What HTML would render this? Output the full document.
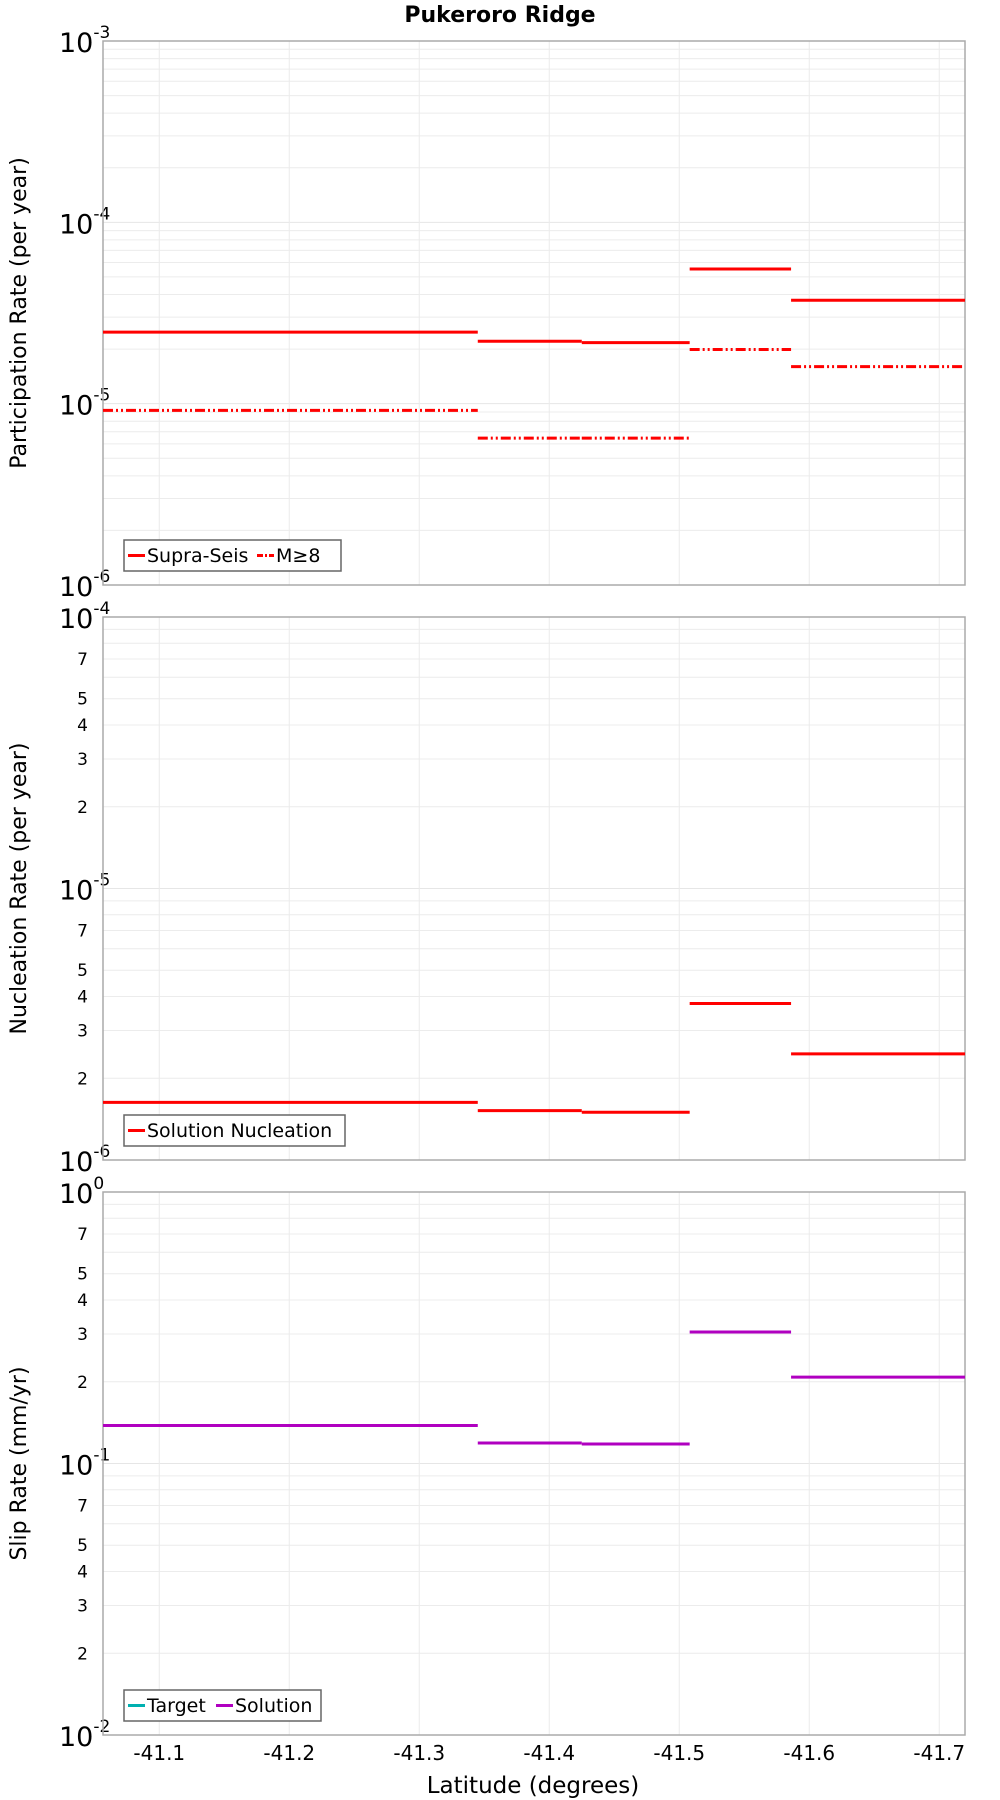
<!DOCTYPE html>
<html><head><meta charset="utf-8"><style>
body{margin:0;background:#fff}
svg{display:block;font-family:"DejaVu Sans","Liberation Sans",sans-serif}
</style></head><body>
<svg id="chart" width="1000" height="1800" viewBox="0 0 1000 1800" xmlns="http://www.w3.org/2000/svg">
<text x="500" y="22" text-anchor="middle" font-size="22" font-weight="bold">Pukeroro Ridge</text>
<text x="533" y="1793" text-anchor="middle" font-size="23">Latitude (degrees)</text>
</svg>
<script>
const binEdges = [-41.0567, -41.345, -41.425, -41.508, -41.586, -41.7198];
const supraSeis = [2.48e-5, 2.21e-5, 2.17e-5, 5.53e-5, 3.72e-5];
const m8 = [9.18e-6, 6.46e-6, 6.46e-6, 1.99e-5, 1.60e-5];
const nucleation = [1.63e-6, 1.52e-6, 1.50e-6, 3.77e-6, 2.46e-6];
const slipSolution = [0.138, 0.119, 0.118, 0.305, 0.208];
const xTicks = [-41.1, -41.2, -41.3, -41.4, -41.5, -41.6, -41.7];

const NS = 'http://www.w3.org/2000/svg';
const svg = document.getElementById('chart');
const L = 103, R = 965, X0 = -41.0567, X1 = -41.7198;
function xs(v){ return L + (v - X0) / (X1 - X0) * (R - L); }
function mk(tag, attrs, parent){
  const e = document.createElementNS(NS, tag);
  for (const k in attrs) e.setAttribute(k, attrs[k]);
  (parent || svg).appendChild(e); return e;
}
function panel(name, top, bot, lo, hi, minorLabels, title){
  const g = mk('g', {});
  
  
  const ys = v => bot - (Math.log10(v) - lo) / (hi - lo) * (bot - top);
  for (let d = lo; d < hi; d++) {
    for (let m = 2; m <= 9; m++) {
      const y = ys(m * Math.pow(10, d));
      const ln = mk('line', {x1: L, x2: R, y1: y, y2: y, stroke: '#ececec', 'stroke-width': 1}, g);
      
      
      if (minorLabels && [2,3,4,5,7].includes(m)) {
        const t = mk('text', {x: 88, y: y + 6, 'text-anchor': 'end', 'font-size': 17}, g);
        t.textContent = m;
        
        
      }
    }
  }
  for (let d = lo; d <= hi; d++) {
    const y = ys(Math.pow(10, d));
    const ln = mk('line', {x1: L, x2: R, y1: y, y2: y, stroke: '#e6e6e6', 'stroke-width': 1}, g);
    
    
    const t = mk('text', {x: 59, y: y + 11, 'text-anchor': 'start', 'font-size': 27}, g);
    
    
    t.textContent = '10';
    const s = mk('tspan', {dy: -14, 'font-size': 17}, t);
    s.textContent = String(d);
  }
  xTicks.forEach(v => {
    const ln = mk('line', {x1: xs(v), x2: xs(v), y1: top, y2: bot, stroke: '#ebebeb', 'stroke-width': 1}, g);
    
    
  });
  const fr = mk('rect', {x: L, y: top, width: R - L, height: bot - top, fill: 'none', stroke: '#aaa', 'stroke-width': 1.5}, g);
  
  
  const cy = (top + bot) / 2;
  const at = mk('text', {x: 26, y: cy, 'text-anchor': 'middle', 'font-size': 22, transform: 'rotate(-90 26 ' + cy + ')'}, g);
  at.textContent = title;
  
  
  return {g, ys};
}
function steps(p, vals, color, dash, nm){
  vals.forEach((v, i) => {
    const y = p.ys(v);
    const a = {x1: xs(binEdges[i]), x2: xs(binEdges[i+1]), y1: y, y2: y, stroke: color, 'stroke-width': 3};
    if (dash) a['stroke-dasharray'] = dash;
    const ln = mk('line', a, p.g);
    
    
  });
}
function legend(g, x, y, w, items, nm){
  const lg = mk('g', {}, g);
  
  
  mk('rect', {x: x, y: y, width: w, height: 31, fill: '#fff', stroke: '#666', 'stroke-width': 1.5}, lg);
  let cx = x + 4;
  items.forEach(it => {
    const a = {x1: cx, x2: cx + 17, y1: y + 15.5, y2: y + 15.5, stroke: it.c, 'stroke-width': 3};
    if (it.d) a['stroke-dasharray'] = it.d;
    mk('line', a, lg);
    const t = mk('text', {x: cx + 19, y: y + 22, 'font-size': 19}, lg);
    t.textContent = it.t;
    
    
    cx += it.w;
  });
}
const p1 = panel('participation', 41, 585, -6, -3, false, 'Participation Rate (per year)');
steps(p1, supraSeis, '#ff0000', null, 'supra-seis');
steps(p1, m8, '#ff0000', '10 3 2 3 2 3', 'm8');
legend(p1.g, 124, 540, 217, [{t:'Supra-Seis', c:'#ff0000', w:129}, {t:'M≥8', c:'#ff0000', d:'6 2 2 2', w:60}], 'participation-legend');

const p2 = panel('nucleation', 617, 1160, -6, -4, true, 'Nucleation Rate (per year)');
steps(p2, nucleation, '#ff0000', null, 'solution-nucleation');
legend(p2.g, 124, 1115, 221, [{t:'Solution Nucleation', c:'#ff0000', w:200}], 'nucleation-legend');

const p3 = panel('slip', 1192, 1735, -2, 0, true, 'Slip Rate (mm/yr)');
steps(p3, slipSolution, '#b000c0', null, 'slip-solution');
legend(p3.g, 124, 1690, 197, [{t:'Target', c:'#00b0b0', w:88}, {t:'Solution', c:'#b000c0', w:100}], 'slip-legend');

xTicks.forEach(v => {
  const t = mk('text', {x: xs(v), y: 1760, 'text-anchor': 'middle', 'font-size': 20});
  t.textContent = v.toFixed(1);
  
  
});
</script>
</body></html>
